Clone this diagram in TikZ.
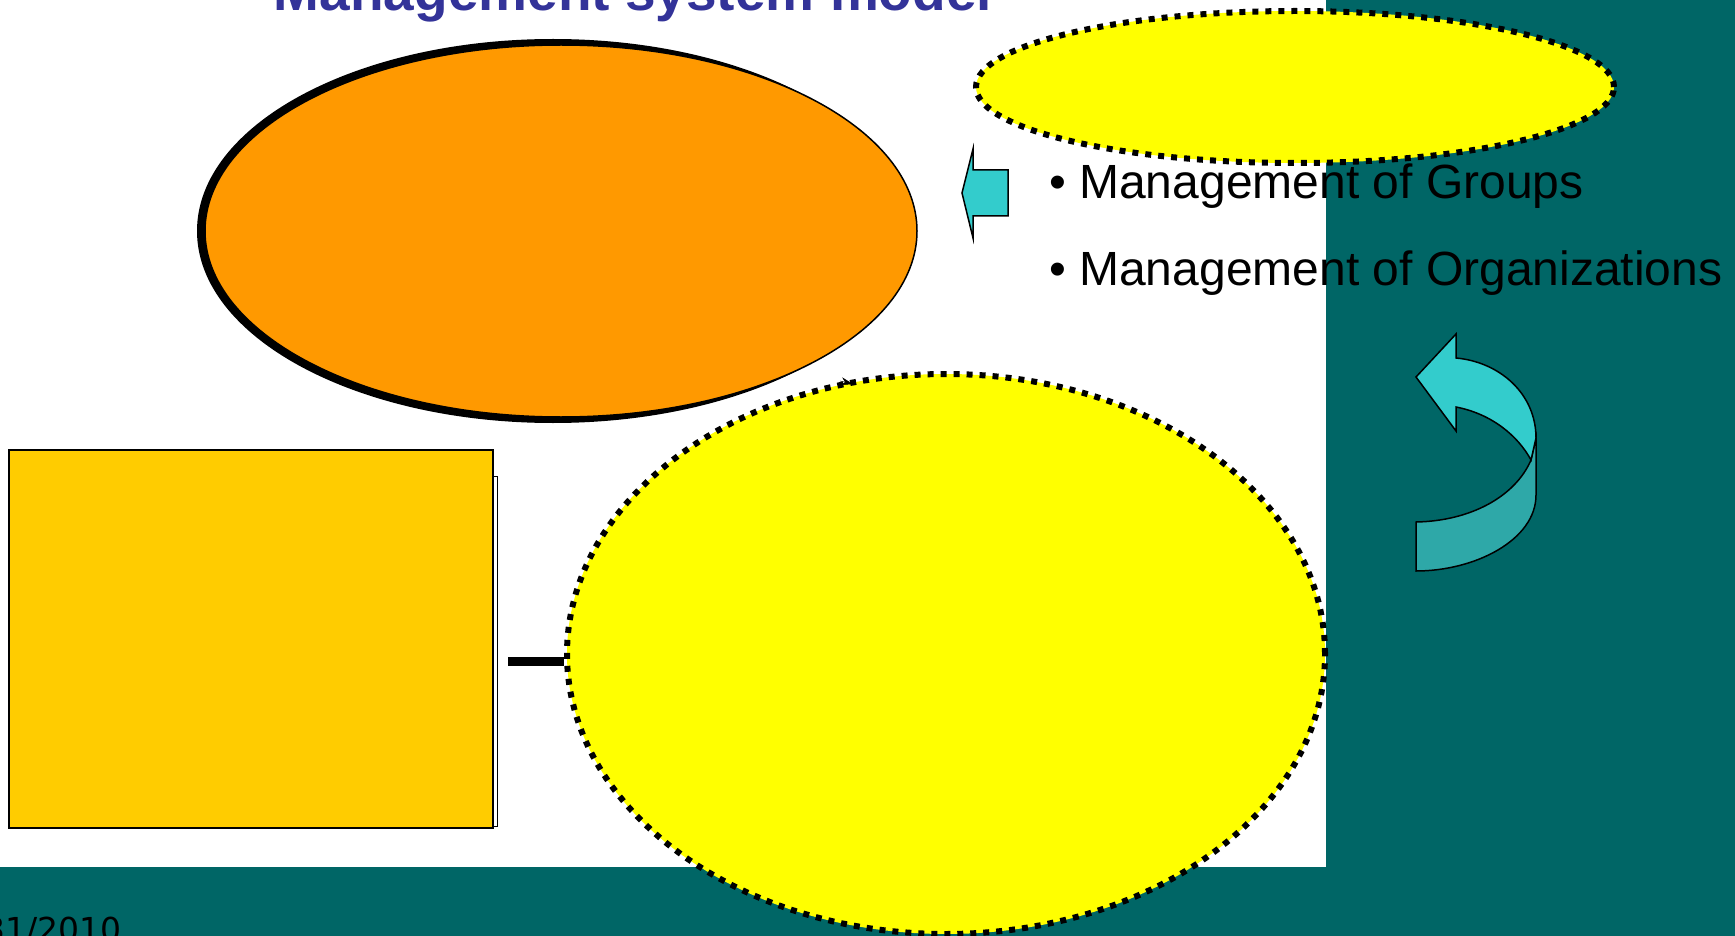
\documentclass[tikz,border=0pt]{standalone}
\usepackage{fontspec}
\setmainfont{Liberation Sans}
\newfontfamily\datefont{DejaVu Sans}
\usetikzlibrary{shapes.geometric, arrows.meta}
\definecolor{bgteal}{HTML}{006666}
\definecolor{orng}{HTML}{FF9900}
\definecolor{gold}{HTML}{FFCC00}
\definecolor{lemon}{HTML}{FFFF00}
\definecolor{cyanarr}{HTML}{33CCCC}
\definecolor{cyandark}{HTML}{2EA8A8}
\definecolor{titleblue}{HTML}{333399}
\tikzstyle{dotell} = [ellipse, inner sep=0pt, draw=black, fill=lemon, line width=6pt, dash pattern=on 6pt off 7pt]
\tikzstyle{sysell} = [ellipse, inner sep=0pt, draw=black, fill=orng, line width=1.5pt]
\tikzstyle{bullet} = [anchor=base west, inner sep=0pt, font=\fontsize{48}{58}\selectfont]
\tikzstyle{arrow} = [line width=1.5pt, draw=black, fill=cyanarr]

\begin{document}
\begin{tikzpicture}[x=1pt, y=-1pt]
\useasboundingbox (0,0) rectangle (1735,936);
\clip (0,0) rectangle (1735,936);
\fill[white] (0,0) rectangle (1735,936);
\fill[bgteal] (1326,0) rectangle (1735,936);
\fill[bgteal] (0,867) rectangle (1735,936);

\node (title) [anchor=base, inner sep=0pt, text=titleblue, font=\bfseries\fontsize{55}{66}\selectfont] at (633,11) {Management system model};

% orange ellipse with its shadow
\node (sysshadow) [ellipse, inner sep=0pt, fill=black, minimum width=712pt, minimum height=384pt] at (553,231) {};
\node (sys) [sysell, minimum width=712pt, minimum height=372pt] at (561,231) {};

\node (topell) [dotell, minimum width=638pt, minimum height=152pt] at (1295,87) {};

% box with its shadow
\fill[white, draw=black, line width=1pt] (30,476) rectangle (497,826);
\node (box) [rectangle, draw=black, line width=1.5pt, fill=gold, minimum width=484pt, minimum height=378pt] at (251,639) {};

\node (bigell) [dotell, minimum width=758pt, minimum height=560pt] at (946,654) {};
\coordinate (lnk) at (508,661);
\draw [line width=9pt] (lnk) -- (lnk -| bigell.west);

\coordinate (tipa) at (840,381);
\coordinate (tipb) at (853,384);
\draw [-{Stealth[length=12pt,width=8pt]}, line width=0.5pt] (tipa) -- (tipb);

\filldraw [arrow] (1008,170) -- (973,170) -- (973,149) -- (962,193) -- (973,238) -- (973,216) -- (1008,216) -- cycle;

\node (grp) [bullet] at (1049,199) {• Management of Groups};
\node (org) [bullet] at (1049,285) {• Management of Organizations};

% curved arrow
\filldraw [arrow, fill=cyandark] (1536,438) -- (1536,495) .. controls (1536,540) and (1475,571) .. (1416,571) -- (1416,522) .. controls (1470,521) and (1515,497) .. (1531,460) -- cycle;
\filldraw [arrow] (1416,377) -- (1456,334) -- (1456,358) .. controls (1500,362) and (1536,394) .. (1536,438) -- (1531,460) .. controls (1518,436) and (1492,414) .. (1456,407) -- (1456,431) -- cycle;

\node (date) [anchor=base east, inner sep=0pt, font=\datefont\fontsize{33}{40}\selectfont] at (122,941) {31/2010};

\end{tikzpicture}
\end{document}
